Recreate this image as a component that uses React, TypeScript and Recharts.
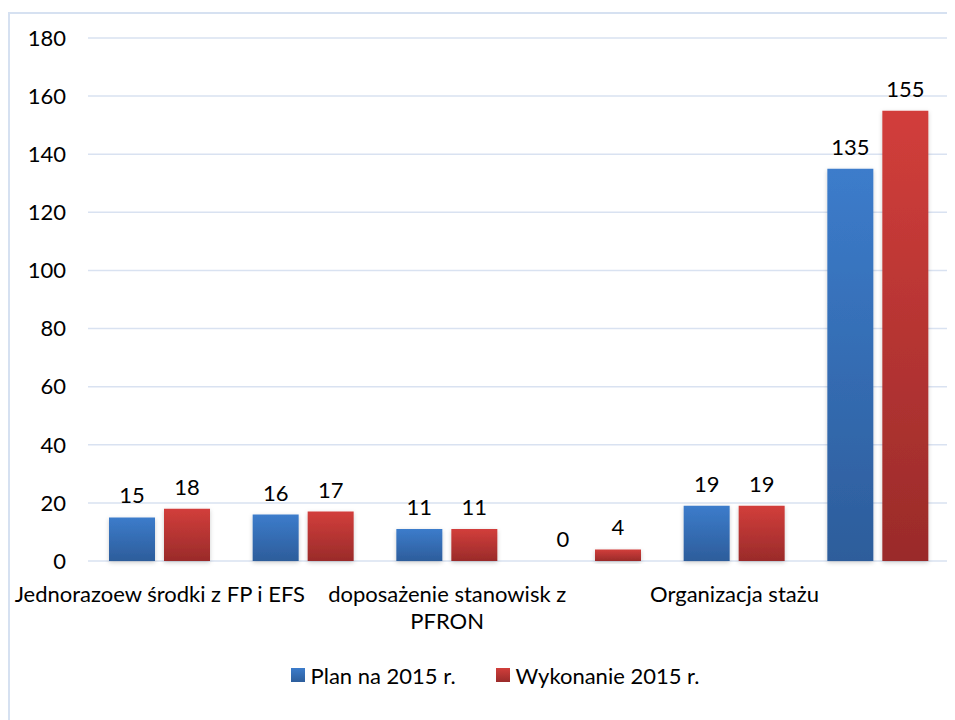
import React from 'react';
import { BarChart, Bar, XAxis, YAxis, CartesianGrid, LabelList, Legend } from 'recharts';

// categories (only every other label is visible in the source chart)
const categories = [
    'Jednorazoew środki z FP i EFS',
    'Prace interwencyjne',
    'doposażenie stanowisk z PFRON',
    'Roboty publiczne',
    'Organizacja stażu',
    'Szkolenia',
];
const planValues = [15, 16, 11, 0, 19, 135];
const doneValues = [18, 17, 11, 4, 19, 155];
const yTicks = [0, 20, 40, 60, 80, 100, 120, 140, 160, 180];
const seriesNames = ['Plan na 2015 r.', 'Wykonanie 2015 r.'];

const data = categories.map((name, i) => ({ name, plan: planValues[i], done: doneValues[i] }));

const FONT = 'Lato, "Open Sans", sans-serif';
const FS = 22;
const GRID = '#d9e2f1';

// word wrap by measured width
const wrapLabel = (label: string, maxWidth: number) => {
    const ctx = document.createElement('canvas').getContext('2d');
    if (!ctx) return [label];
    ctx.font = `${FS}px Lato`;
    const lines: string[] = [];
    let line = '';
    label.split(' ').forEach((w) => {
        const next = line ? `${line} ${w}` : w;
        if (line && ctx.measureText(next).width > maxWidth) {
            lines.push(line);
            line = w;
        } else {
            line = next;
        }
    });
    if (line) lines.push(line);
    return lines;
};

const XTick = ({ x, y, payload }: any) => (
    <text x={x} y={y + 39} textAnchor="middle" fontFamily={FONT} fontSize={FS} fill="#000">
        {wrapLabel(String(payload.value), 300).map((l, i) => (
            <tspan key={i} x={x} dy={i === 0 ? 0 : 27}>{l}</tspan>
        ))}
    </text>
);

// draws value labels above bars, zero included
const ValueLabel = ({ x, y, width, value }: any) => (
    <text x={Number(x) + Number(width) / 2} y={Number(y) - 14} textAnchor="middle" fontFamily={FONT} fontSize={FS} fill="#000">
        {String(value)}
    </text>
);

const LegendContent = () => (
    <div style={{ width: 974, height: 60, display: 'flex', justifyContent: 'center', fontFamily: FONT, fontSize: FS, color: '#000' }}>
        <div style={{ display: 'flex', alignItems: 'center', height: 30, marginRight: 40 }}>
            <span style={{ width: 14, height: 14, marginRight: 6, background: 'linear-gradient(#3c7ccb, #2d5e9c)' }} />
            {seriesNames[0]}
        </div>
        <div style={{ display: 'flex', alignItems: 'center', height: 30 }}>
            <span style={{ width: 14, height: 14, marginRight: 6, background: 'linear-gradient(#d13e3b, #9a2b2a)' }} />
            {seriesNames[1]}
        </div>
    </div>
);

export default function App() {
    return (
        <div style={{ position: 'relative', width: 947, height: 712, overflow: 'hidden', background: '#fff' }}>
            <div style={{ position: 'absolute', left: 0, top: 4, width: 1200, height: 1200, border: '2px solid #d6e1f1' }} />
            <BarChart
                width={947}
                height={712}
                data={data}
                margin={{ top: 30, right: 5, left: 0, bottom: 0 }}
                barSize={46}
                barGap={9}
                style={{ position: 'absolute', left: 0, top: 0 }}
            >
                <defs>
                    <linearGradient id="gPlan" x1="0" y1="0" x2="0" y2="1">
                        <stop offset="0%" stopColor="#3c7ccb" />
                        <stop offset="100%" stopColor="#2d5d9b" />
                    </linearGradient>
                    <linearGradient id="gDone" x1="0" y1="0" x2="0" y2="1">
                        <stop offset="0%" stopColor="#d23e3b" />
                        <stop offset="100%" stopColor="#9a2b2a" />
                    </linearGradient>
                    <filter id="barShadow" x="-20%" y="-20%" width="140%" height="140%">
                        <feDropShadow dx="0" dy="1.5" stdDeviation="2" floodColor="#000" floodOpacity="0.2" />
                    </filter>
                </defs>
                <CartesianGrid vertical={false} stroke={GRID} strokeWidth={1.5} />
                <XAxis
                    dataKey="name"
                    interval={1}
                    axisLine={false}
                    tickLine={false}
                    tickSize={0}
                    height={99}
                    tick={<XTick />}
                />
                <YAxis
                    domain={[0, 180]}
                    ticks={yTicks}
                    width={80}
                    axisLine={false}
                    tickLine={false}
                    tickSize={0}
                    tickMargin={22}
                    tick={{ fontFamily: FONT, fontSize: FS, fill: '#000' }}
                />
                <Legend verticalAlign="bottom" content={<LegendContent />} wrapperStyle={{ left: 0, width: 974 }} />
                <Bar dataKey="plan" name={seriesNames[0]} fill="url(#gPlan)" filter="url(#barShadow)" minPointSize={0.01} isAnimationActive={false}>
                    <LabelList dataKey="plan" content={<ValueLabel />} />
                </Bar>
                <Bar dataKey="done" name={seriesNames[1]} fill="url(#gDone)" filter="url(#barShadow)" minPointSize={0.01} isAnimationActive={false}>
                    <LabelList dataKey="done" content={<ValueLabel />} />
                </Bar>
            </BarChart>
        </div>
    );
}
